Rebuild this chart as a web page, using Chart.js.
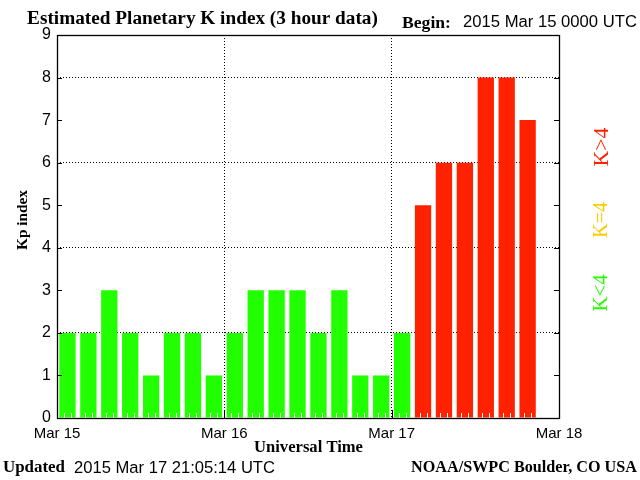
<!DOCTYPE html>
<html>
<head>
<meta charset="utf-8">
<script src="https://cdn.jsdelivr.net/npm/chart.js@4/dist/chart.umd.min.js"></script>
<style>
html, body { margin: 0; padding: 0; background: #fff; }
canvas { display: block; }
</style>
</head>
<body>
<canvas id="kpChart" width="640" height="480"></canvas>
<script>
// --- DATA ---
const slotLabels = ['00', '03', '06', '09', '12', '15', '18', '21',
                    '00', '03', '06', '09', '12', '15', '18', '21',
                    '00', '03', '06', '09', '12', '15', '18', '21'];
const kpValues = [2, 2, 3, 2, 1, 2, 2, 1,
                  2, 3, 3, 3, 2, 3, 1, 1,
                  2, 5, 6, 6, 8, 8, 7, null];
const dayLabels = ['Mar 15', 'Mar 16', 'Mar 17', 'Mar 18'];
const dayHours = [0, 24, 48, 72];
const kpTicks = [0, 1, 2, 3, 4, 5, 6, 7, 8, 9];
const gridKp = [2, 4, 6, 8];
const gridHours = [24, 48];

const GREEN = '#22ff00';
const GOLD = '#ffcc00';
const RED = '#ff2200';
const SERIF = '"Liberation Serif", "DejaVu Serif", serif';
const SANS = '"Liberation Sans", Arial, sans-serif';

function kpColor(v) {
    if (v < 4) return GREEN;
    if (v === 4) return GOLD;
    return RED;
}

// texts placed around the plot, fitted to the width seen in the picture
const frameTexts = [
    { text: 'Estimated Planetary K index (3 hour data)', family: SERIF, bold: true, x0: 27, x1: 378, y: 19 },
    { text: 'Begin:', family: SERIF, bold: true, x0: 402, x1: 451, y: 23 },
    { text: '2015 Mar 15 0000 UTC', family: SANS, x0: 463, x1: 637, y: 22 },
    { text: 'Universal Time', family: SERIF, bold: true, x0: 254, x1: 363, y: 448 },
    { text: 'Updated', family: SERIF, bold: true, x0: 3, x1: 65, y: 468 },
    { text: '2015 Mar 17 21:05:14 UTC', family: SANS, x0: 74, x1: 275, y: 468 },
    { text: 'NOAA/SWPC Boulder, CO USA', family: SERIF, bold: true, x0: 411, x1: 637, y: 468 },
    { text: 'Kp index', family: SERIF, bold: true, cx: 23, cy: 220, len: 60, rot: true },
    { text: 'K>4', family: SERIF, color: RED, cx: 602, cy: 147, len: 39, rot: true },
    { text: 'K=4', family: SERIF, color: GOLD, cx: 602, cy: 220, len: 36, rot: true },
    { text: 'K<4', family: SERIF, color: GREEN, cx: 602, cy: 293, len: 37, rot: true }
];

function drawFitted(ctx, t) {
    const weight = t.bold ? 'bold ' : '';
    ctx.font = weight + '100px ' + t.family;
    const target = t.rot ? t.len : (t.x1 - t.x0);
    const size = 100 * target / ctx.measureText(t.text).width;
    ctx.font = weight + size.toFixed(2) + 'px ' + t.family;
    ctx.fillStyle = t.color || '#000';
    ctx.textAlign = 'center';
    ctx.textBaseline = 'middle';
    if (t.rot) {
        ctx.save();
        ctx.translate(t.cx, t.cy);
        ctx.rotate(-Math.PI / 2);
        ctx.fillText(t.text, 0, 0);
        ctx.restore();
    } else {
        ctx.fillText(t.text, (t.x0 + t.x1) / 2, t.y);
    }
}

// frame, inward ticks and the texts
const framePlugin = {
    id: 'frame',
    afterDraw(chart) {
        const { ctx, chartArea: a, scales } = chart;
        const y = scales.y, t = scales.t;
        ctx.save();
        // hourly marks inside the bottom edge
        ctx.strokeStyle = '#ffffff';
        ctx.lineWidth = 1;
        for (let h = 1; h < 72; h++) {
            if (h % 3 === 0) continue;
            const px = Math.round(t.getPixelForValue(h)) + 0.5;
            ctx.beginPath();
            ctx.moveTo(px, a.bottom);
            ctx.lineTo(px, a.bottom - 5);
            ctx.stroke();
        }
        ctx.strokeStyle = '#000';
        // day marks
        gridHours.forEach(h => {
            const px = Math.round(t.getPixelForValue(h)) + 0.5;
            ctx.beginPath();
            ctx.moveTo(px, a.bottom);
            ctx.lineTo(px, a.bottom - 8);
            ctx.stroke();
        });
        // Kp ticks on both sides
        kpTicks.forEach(v => {
            const py = Math.round(y.getPixelForValue(v)) + 0.5;
            ctx.beginPath();
            ctx.moveTo(a.left, py);
            ctx.lineTo(a.left + 5, py);
            ctx.moveTo(a.right, py);
            ctx.lineTo(a.right - 5, py);
            ctx.stroke();
        });
        ctx.lineWidth = 1.3;
        ctx.strokeRect(Math.round(a.left) + 0.5, Math.round(a.top) + 0.5,
                       Math.round(a.right - a.left), Math.round(a.bottom - a.top));
        frameTexts.forEach(tx => drawFitted(ctx, tx));
        ctx.restore();
    }
};

const kpCtx = document.getElementById('kpChart').getContext('2d');
new Chart(kpCtx, {
    type: 'bar',
    data: {
        labels: slotLabels,
        datasets: [{
            data: kpValues,
            backgroundColor: kpValues.map(kpColor),
            borderWidth: 0,
            barPercentage: 0.78,
            categoryPercentage: 1.0,
            xAxisID: 'x',
            yAxisID: 'y'
        }]
    },
    options: {
        responsive: false,
        animation: false,
        layout: { padding: { top: 35, right: 81, left: 0, bottom: 0 } },
        plugins: {
            legend: { display: false },
            tooltip: { enabled: false }
        },
        scales: {
            x: {
                type: 'category',
                offset: true,
                display: false
            },
            t: {
                type: 'linear',
                position: 'bottom',
                offset: false,
                min: 0,
                max: 72,
                afterFit: s => { s.height = 62; },
                afterBuildTicks: s => { s.ticks = dayHours.map(v => ({ value: v })); },
                ticks: {
                    padding: 7,
                    maxRotation: 0,
                    autoSkip: false,
                    color: '#000',
                    font: { family: SANS, size: 15 },
                    callback: v => dayLabels[dayHours.indexOf(v)]
                },
                grid: {
                    offset: false,
                    drawTicks: false,
                    color: c => (c.tick && gridHours.includes(c.tick.value)) ? '#000' : 'rgba(0,0,0,0)',
                    lineWidth: 1
                },
                border: { display: false, dash: [1, 2] }
            },
            y: {
                min: 0,
                max: 9,
                afterFit: s => { s.width = 57; },
                afterBuildTicks: s => { s.ticks = kpTicks.map(v => ({ value: v })); },
                ticks: {
                    padding: 6,
                    color: '#000',
                    font: { family: SANS, size: 16 }
                },
                grid: {
                    drawTicks: false,
                    color: c => (c.tick && gridKp.includes(c.tick.value)) ? '#000' : 'rgba(0,0,0,0)',
                    lineWidth: 1
                },
                border: { display: false, dash: [1, 2] }
            }
        }
    },
    plugins: [framePlugin]
});
</script>
</body>
</html>
